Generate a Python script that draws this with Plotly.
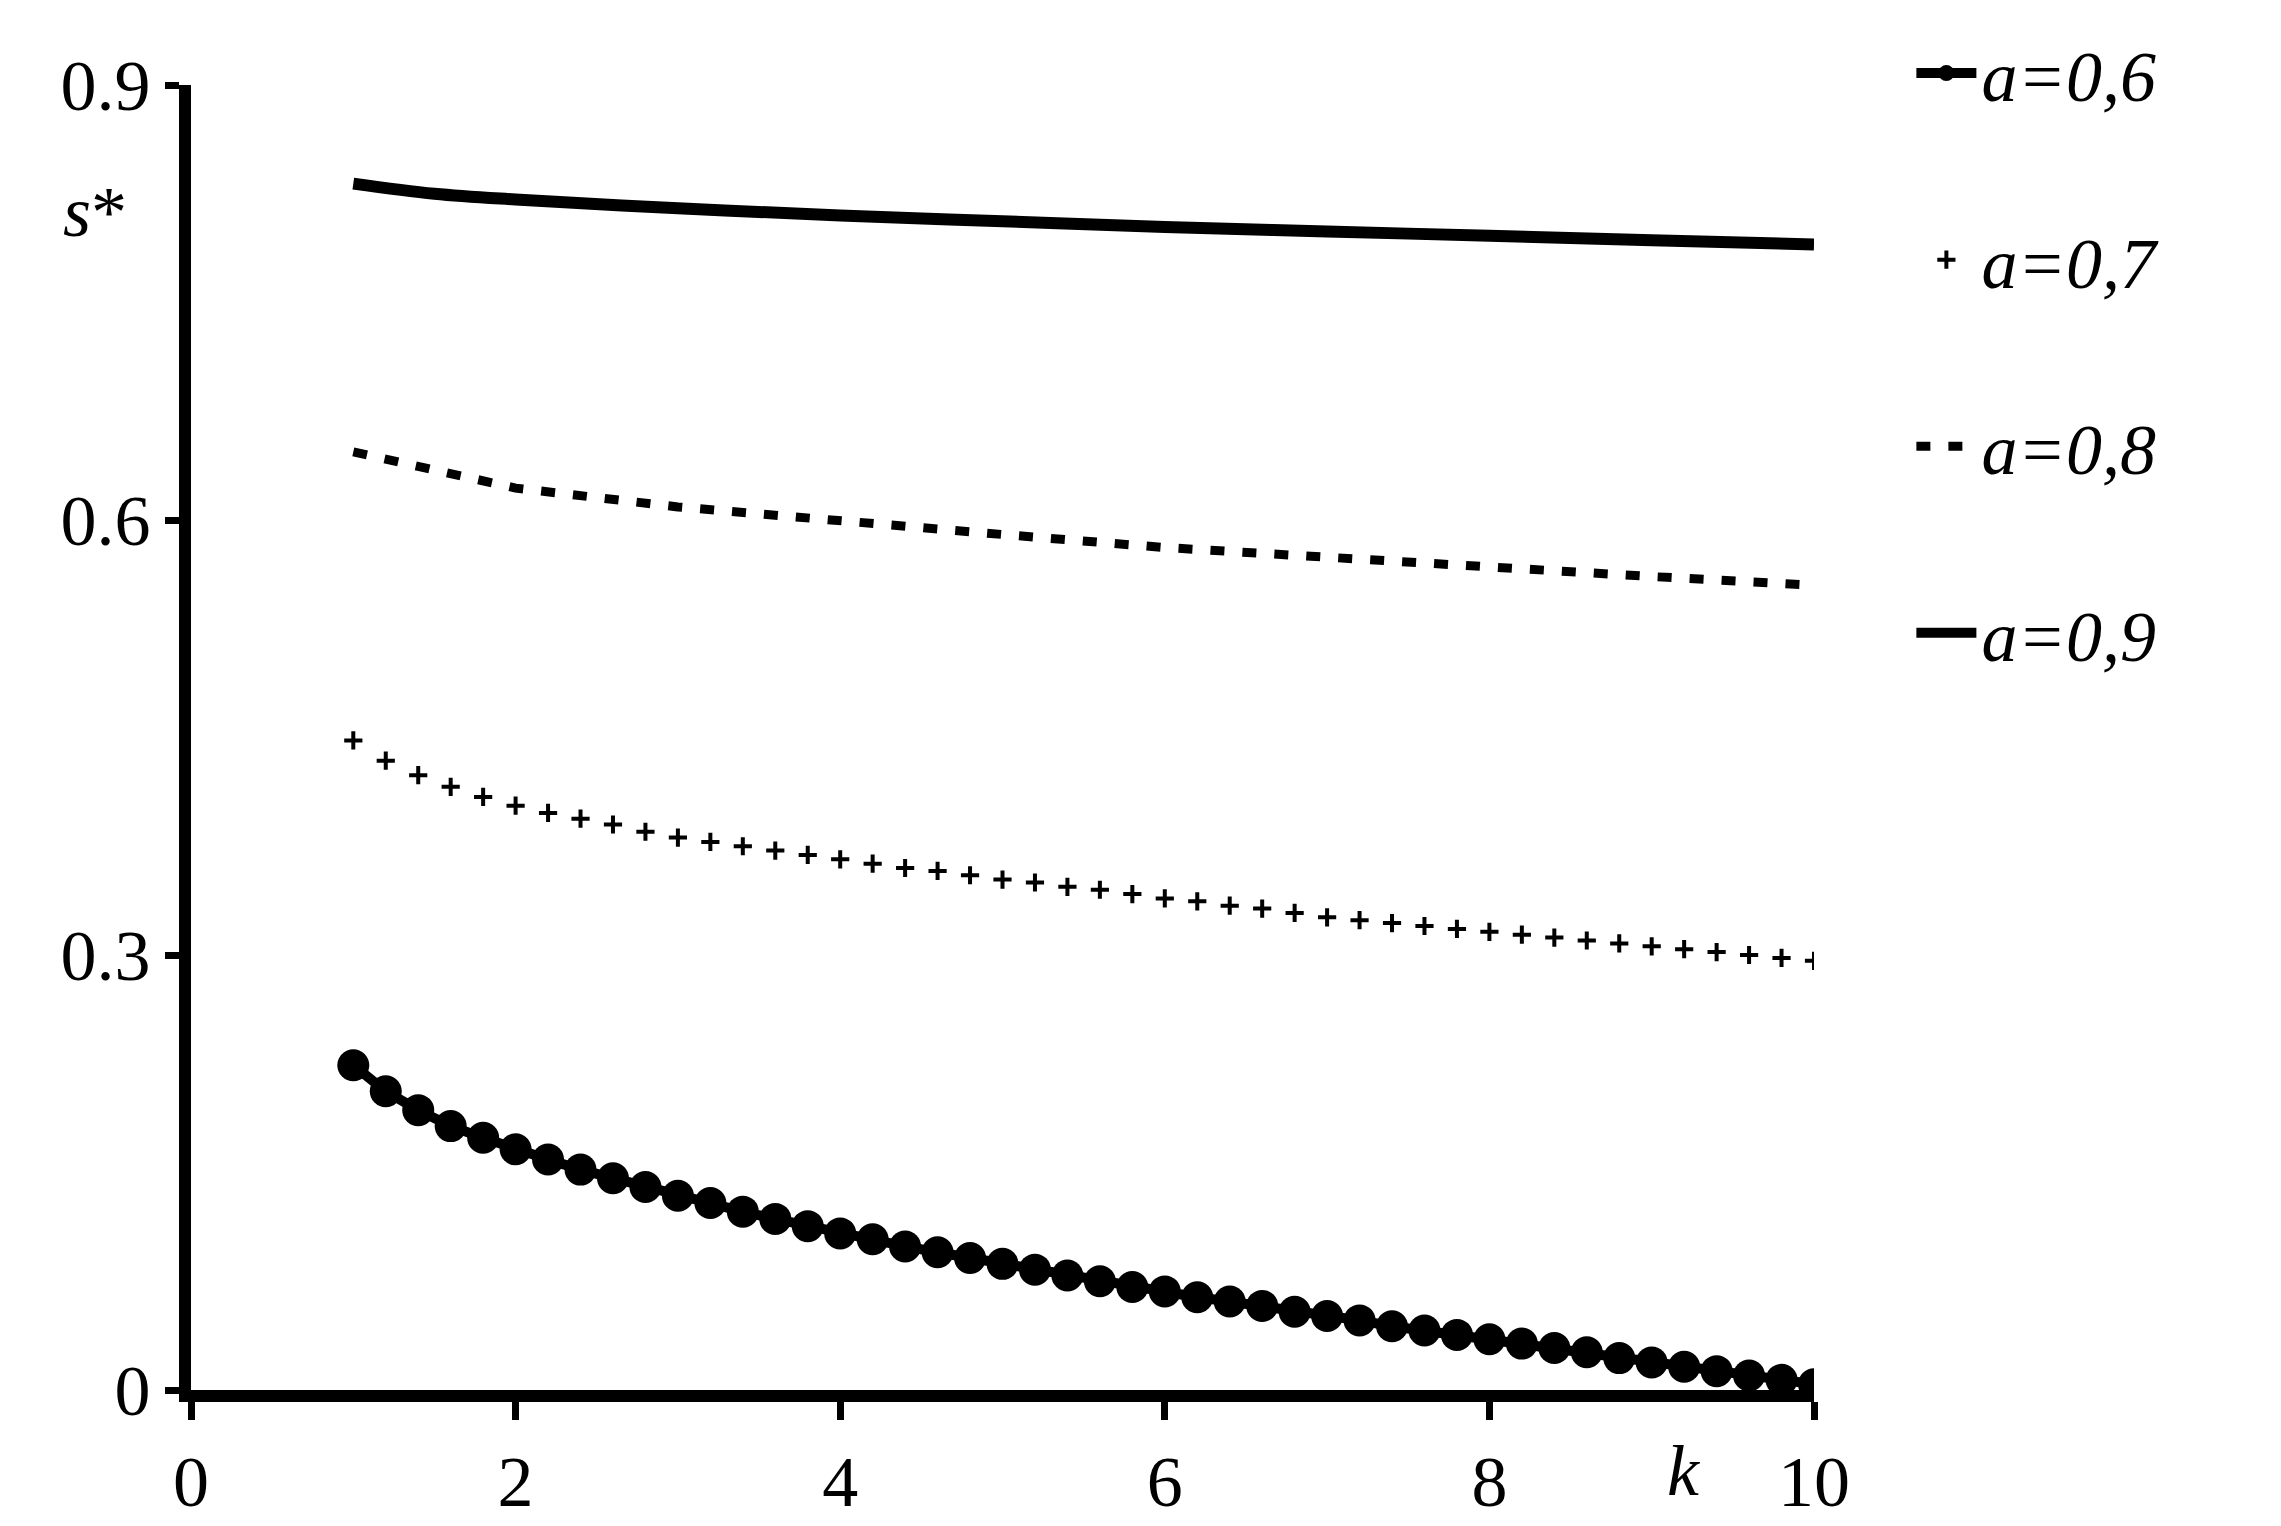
import plotly.graph_objects as go

k_fine = [1.0 + 0.2 * i for i in range(46)]
s_06 = [0.224, 0.206, 0.193, 0.182, 0.174, 0.166, 0.159, 0.152, 0.146, 0.140,
        0.134, 0.129, 0.123, 0.118, 0.113, 0.108, 0.104, 0.099, 0.095, 0.091,
        0.087, 0.083, 0.079, 0.075, 0.071, 0.068, 0.064, 0.061, 0.058, 0.054,
        0.051, 0.048, 0.044, 0.041, 0.038, 0.035, 0.032, 0.029, 0.026, 0.022,
        0.019, 0.016, 0.013, 0.010, 0.007, 0.004]
s_07 = [0.448, 0.434, 0.424, 0.416, 0.409, 0.403, 0.398, 0.394, 0.390, 0.385,
        0.381, 0.378, 0.375, 0.372, 0.369, 0.366, 0.363, 0.360, 0.358, 0.355,
        0.352, 0.350, 0.347, 0.345, 0.342, 0.339, 0.337, 0.334, 0.332, 0.329,
        0.326, 0.324, 0.322, 0.320, 0.318, 0.316, 0.314, 0.312, 0.310, 0.308,
        0.306, 0.304, 0.302, 0.300, 0.298, 0.296]
k_08 = [1, 2, 3, 4, 5, 6, 7, 8, 9, 10]
s_08 = [0.647, 0.622, 0.609, 0.599, 0.590, 0.581, 0.574, 0.567, 0.561, 0.555]
k_09 = [1, 1.5, 2, 3, 4, 5, 6, 7, 8, 9, 10]
s_09 = [0.832, 0.825, 0.821, 0.815, 0.810, 0.806, 0.802, 0.799, 0.796, 0.793, 0.790]

font = "Liberation Serif, Times New Roman, serif"
fig = go.Figure()
fig.add_trace(go.Scatter(x=k_fine, y=s_06, mode="lines+markers", name="<i>a=0,6</i>",
                         marker=dict(symbol="circle", size=32, color="black"),
                         line=dict(color="black", width=10),
                         legendgroup="a"))
fig.add_trace(go.Scatter(x=k_fine, y=s_07, mode="markers", name="<i>a=0,7</i>",
                         marker=dict(symbol="cross-thin", size=13, color="black",
                                     line=dict(width=4, color="black")),
                         legendgroup="b"))
fig.add_trace(go.Scatter(x=k_08, y=s_08, mode="lines", name="<i>a=0,8</i>",
                         line=dict(color="black", width=9, dash="14px,18px"),
                         legendgroup="c"))
fig.add_trace(go.Scatter(x=k_09, y=s_09, mode="lines", name="<i>a=0,9</i>",
                         line=dict(color="black", width=12, shape="spline"),
                         legendgroup="d"))

fig.update_layout(
    width=2281, height=1526,
    paper_bgcolor="white", plot_bgcolor="white",
    margin=dict(l=183, r=475, t=59, b=142),
    font=dict(family=font, size=72, color="black"),
    showlegend=True,
    legend=dict(x=1.06, y=1.05, xanchor="left", yanchor="top",
                tracegroupgap=90, itemwidth=60,
                font=dict(family=font, size=72)),
    annotations=[
        dict(text="<i>s</i>*", xref="paper", yref="paper", x=-0.08, y=0.935,
             showarrow=False, font=dict(size=72)),
        dict(text="<i>k</i>", xref="x", yref="paper", x=9.2, y=-0.03,
             yanchor="top", showarrow=False, font=dict(size=72)),
    ],
)
fig.update_xaxes(range=[0, 10], tickvals=[0, 2, 4, 6, 8, 10], showgrid=False,
                 zeroline=False, showline=True, linewidth=12, linecolor="black",
                 ticks="outside", ticklen=18, tickwidth=7, tickcolor="black")
fig.update_yaxes(range=[0, 0.9], tickvals=[0, 0.3, 0.6, 0.9], ticktext=["0", "0.3", "0.6", "0.9"],
                 showgrid=False, zeroline=False, showline=True, linewidth=12,
                 linecolor="black", ticks="outside", ticklen=14, tickwidth=7,
                 tickcolor="black")
fig.write_html("out.html")
